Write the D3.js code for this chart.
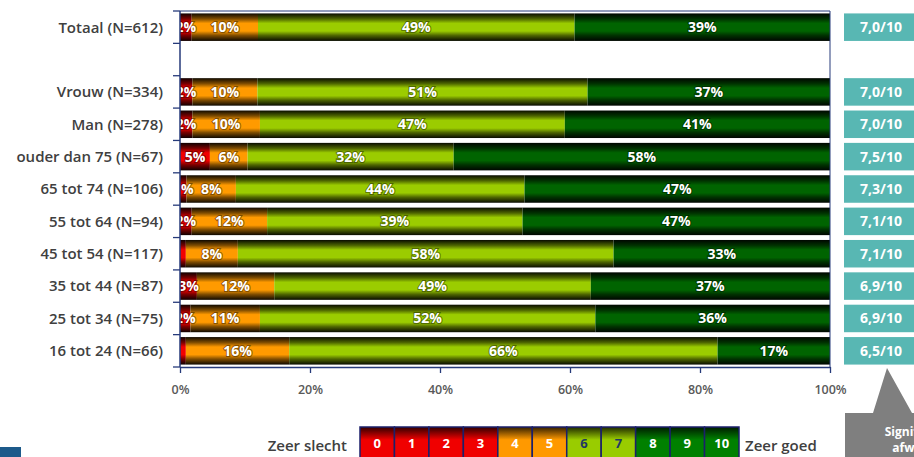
<!DOCTYPE html>
<html>
<head>
<meta charset="utf-8">
<script src="https://cdn.jsdelivr.net/npm/d3@7/dist/d3.min.js"></script>
<style>
  html, body { margin: 0; padding: 0; background: #fff; }
  svg { display: block; font-family: "Open Sans", "Noto Sans", sans-serif; }
</style>
</head>
<body>
<svg id="chart" width="914" height="457"></svg>
<script>
// Rapportcijfer per doelgroep: verdeling van de scores (in %)
const categories = [
  "Totaal (N=612)", "", "Vrouw (N=334)", "Man (N=278)", "ouder dan 75 (N=67)",
  "65 tot 74 (N=106)", "55 tot 64 (N=94)", "45 tot 54 (N=117)", "35 tot 44 (N=87)",
  "25 tot 34 (N=75)", "16 tot 24 (N=66)"
];
const score0tot3  = [1.8, null, 1.9, 1.9, 4.6, 1.0, 1.8, 0.9, 2.6, 1.6, 0.9];
const score4tot5  = [10.2, null, 10.0, 10.4, 5.8, 7.6, 11.6, 8.0, 11.9, 10.7, 15.9];
const score6tot7  = [48.7, null, 50.8, 46.9, 31.7, 44.4, 39.3, 57.8, 48.7, 51.6, 65.9];
const score8tot10 = [39.3, null, 37.3, 40.8, 57.9, 47.0, 47.3, 33.3, 36.8, 36.1, 17.3];
const gemiddelde  = [7.0, null, 7.0, 7.0, 7.5, 7.3, 7.1, 7.1, 6.9, 6.9, 6.5];
const xTicks = [0, 20, 40, 60, 80, 100];
const legendScores = [0, 1, 2, 3, 4, 5, 6, 7, 8, 9, 10];

const seriesNames = ["s0", "s1", "s2", "s3"];
const seriesColors = ["#f20000", "#ff9a00", "#9bcc00", "#006400"];
const legendColors = ["#f00000", "#f00000", "#f00000", "#f00000", "#ff9900", "#ff9900",
                      "#99cc00", "#99cc00", "#008000", "#008000", "#008000"];

const svg = d3.select("#chart");
const defs = svg.append("defs");

const plot = { left: 180, right: 830, top: 11, bottom: 367 };
const x = d3.scaleLinear().domain([0, 100]).range([plot.left, plot.right]);
const rowIds = categories.map((c, i) => i);
const y = d3.scaleBand().domain(rowIds).range([plot.top, plot.bottom])
  .paddingInner(0.15).paddingOuter(0.075);

// Vertical gradients: dark edges, bright middle
seriesColors.forEach((c, i) => {
  const g = defs.append("linearGradient").attr("id", "bar" + i)
    .attr("x1", 0).attr("y1", 0).attr("x2", 0).attr("y2", 1);
  const dark = d3.interpolateRgb("#000", c)(0.06);
  const mid = d3.interpolateRgb("#000", c)(0.5);
  [[0, dark], [0.2, mid], [0.36, c], [0.64, c], [0.8, mid], [1, dark]]
    .forEach(([o, col]) => g.append("stop").attr("offset", o).attr("stop-color", col));
});
Array.from(new Set(legendColors)).forEach(c => {
  const g = defs.append("linearGradient").attr("id", "leg" + c.slice(1))
    .attr("x1", 0).attr("y1", 0).attr("x2", 0).attr("y2", 1);
  g.append("stop").attr("offset", 0).attr("stop-color", d3.interpolateRgb("#000", c)(0.2));
  g.append("stop").attr("offset", 0.4).attr("stop-color", c);
  g.append("stop").attr("offset", 1).attr("stop-color", c);
});
defs.append("clipPath").attr("id", "plotClip").append("rect")
  .attr("x", plot.left).attr("y", plot.top)
  .attr("width", plot.right - plot.left).attr("height", plot.bottom - plot.top);

// Stacked rows
const table = categories.map((c, i) => ({
  id: i, s0: score0tot3[i], s1: score4tot5[i], s2: score6tot7[i], s3: score8tot10[i]
})).filter(d => d.s0 !== null);
const stacked = d3.stack().keys(seriesNames)(table);

const barsG = svg.append("g").attr("clip-path", "url(#plotClip)");
stacked.forEach((layer, li) => {
  barsG.append("g").selectAll("rect").data(layer).join("rect")
    .attr("x", d => x(d[0]))
    .attr("y", d => y(d.data.id))
    .attr("width", d => x(d[1]) - x(d[0]))
    .attr("height", y.bandwidth())
    .attr("fill", `url(#bar${li})`);
});
stacked.forEach(layer => {
  barsG.append("g").selectAll("text")
    .data(layer.filter(d => d.data[layer.key] >= 1))
    .join("text")
    .attr("x", d => (x(d[0]) + x(d[1])) / 2)
    .attr("y", d => y(d.data.id) + y.bandwidth() / 2)
    .attr("dy", "0.36em")
    .attr("text-anchor", "middle")
    .attr("font-size", 14).attr("font-weight", 700)
    .attr("fill", "#fff")
    .attr("stroke", "rgba(0,0,0,0.4)").attr("stroke-width", 2.2)
    .attr("paint-order", "stroke")
    .text(d => Math.round(d.data[layer.key]) + "%");
});

// Frame and axes
const axisColor = "#263a7a";
svg.append("path")
  .attr("d", `M${plot.left},${plot.top}H${plot.right}V${plot.bottom}`)
  .attr("fill", "none").attr("stroke", axisColor).attr("stroke-width", 1);

const yEdges = d3.range(categories.length + 1).map(i => plot.top + i * y.step());
const leftAxis = svg.append("g");
leftAxis.append("line").attr("x1", plot.left).attr("x2", plot.left)
  .attr("y1", plot.top).attr("y2", plot.bottom)
  .attr("stroke", axisColor).attr("stroke-width", 1.5);
leftAxis.selectAll("line.t").data(yEdges).join("line").attr("class", "t")
  .attr("x1", plot.left - 7).attr("x2", plot.left)
  .attr("y1", d => d).attr("y2", d => d)
  .attr("stroke", axisColor).attr("stroke-width", 1.3);

svg.append("g").selectAll("text").data(categories.map((c, i) => ({ c, i })))
  .join("text")
  .attr("x", 163)
  .attr("y", d => y(d.i) + y.bandwidth() / 2)
  .attr("dy", "0.36em")
  .attr("text-anchor", "end")
  .attr("font-size", 15).attr("font-weight", 600)
  .attr("fill", "#404040")
  .text(d => d.c);

const xAxis = d3.axisBottom(x).tickValues(xTicks).tickFormat(d => d + "%")
  .tickSize(6).tickSizeOuter(0);
const xg = svg.append("g").attr("transform", `translate(0,${plot.bottom})`).call(xAxis);
xg.select(".domain").attr("stroke", axisColor).attr("stroke-width", 1.5);
xg.selectAll(".tick line").attr("stroke", axisColor).attr("stroke-width", 1.3);
xg.selectAll(".tick text")
  .attr("font-family", "Open Sans, sans-serif")
  .attr("font-size", 12.5).attr("font-weight", 600).attr("fill", "#595959")
  .attr("dy", "1.45em");

// Average score badges
svg.append("g").selectAll("g").data(table).join("g").each(function (d) {
  const g = d3.select(this);
  const top = y(d.id), h = y.bandwidth();
  g.append("rect").attr("x", 844).attr("y", top).attr("width", 74).attr("height", h)
    .attr("fill", "#58b7b3");
  g.append("text").attr("x", 881).attr("y", top + h / 2).attr("dy", "0.36em")
    .attr("text-anchor", "middle").attr("font-size", 14).attr("font-weight", 700)
    .attr("fill", "#fff")
    .text(d3.format(".1f")(gemiddelde[d.id]).replace(".", ",") + "/10");
});

// Callout pointing at the badges
svg.append("path")
  .attr("d", "M845,413H873L887,368L912,413H920V460H845Z")
  .attr("fill", "#7f7f7f");
const callout = svg.append("text").attr("text-anchor", "middle")
  .attr("font-size", 12).attr("font-weight", 700).attr("fill", "#fff");
callout.append("tspan").attr("x", 920).attr("y", 436).text("Significante");
callout.append("tspan").attr("x", 920).attr("y", 452).text("afwijking");

// Score legend
const lx = d3.scaleBand().domain(legendScores).range([360, 739]);
const lg = svg.append("g");
lg.append("text").attr("x", 347).attr("y", 451).attr("text-anchor", "end")
  .attr("font-size", 15).attr("font-weight", 600).attr("fill", "#404040").text("Zeer slecht");
lg.append("text").attr("x", 745).attr("y", 451)
  .attr("font-size", 15).attr("font-weight", 600).attr("fill", "#404040").text("Zeer goed");
lg.selectAll("rect").data(legendScores).join("rect")
  .attr("x", d => lx(d)).attr("y", 427).attr("width", lx.bandwidth()).attr("height", 32)
  .attr("fill", (d, i) => `url(#leg${legendColors[i].slice(1)})`)
  .attr("stroke", "#1b1f6b").attr("stroke-width", 1.5);
lg.selectAll("text.n").data(legendScores).join("text").attr("class", "n")
  .attr("x", d => lx(d) + lx.bandwidth() / 2).attr("y", 448)
  .attr("text-anchor", "middle").attr("font-size", 13).attr("font-weight", 700)
  .attr("fill", d => (d === 6 || d === 7) ? "#1f3864" : "#fff")
  .text(d => d);

// Corner marker
svg.append("rect").attr("x", 0).attr("y", 447).attr("width", 21).attr("height", 12)
  .attr("fill", "#1d5a8a");
</script>
</body>
</html>
